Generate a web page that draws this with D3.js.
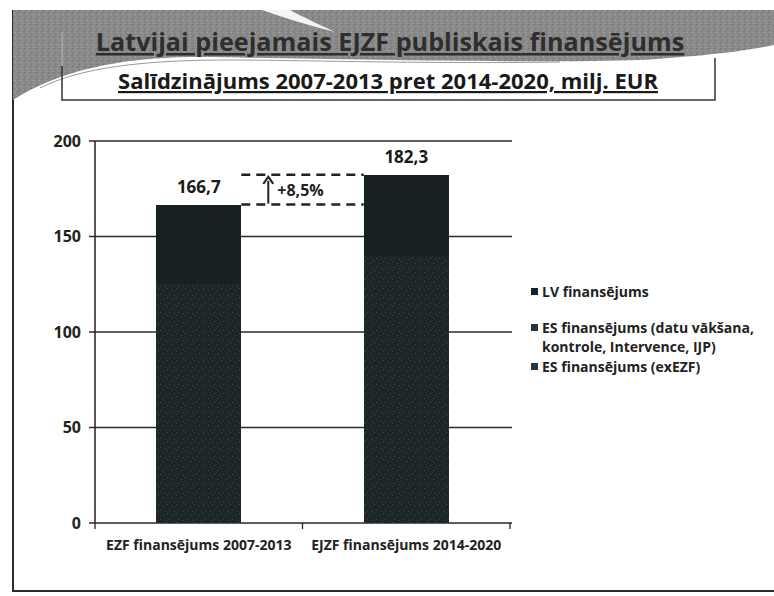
<!DOCTYPE html>
<html><head><meta charset="utf-8">
<script src="https://cdn.jsdelivr.net/npm/d3@7"></script>
<style>html,body{margin:0;padding:0;background:#fff;}svg{display:block;font-family:"Open Sans",Lato,sans-serif;}</style>
</head><body>
<svg id="c" width="774" height="596"></svg>
<script>
const categories = ["EZF finansējums 2007-2013", "EJZF finansējums 2014-2020"];
const seriesNames = ["ES finansējums (exEZF)", "ES finansējums (datu vākšana, kontrole, Intervence, IJP)", "LV finansējums"];
const esExEZF = [125.0, 118.4];
const esDatu = [0.0, 21.4];
const lvFin = [41.7, 42.5];
const totals = [166.7, 182.3];
const totalLabels = ["166,7", "182,3"];
const yTicks = [0, 50, 100, 150, 200];
const changeLabel = "+8,5%";
const title = "Latvijai pieejamais EJZF publiskais finansējums";
const subtitle = "Salīdzinājums  2007-2013 pret 2014-2020, milj. EUR";

const svg = d3.select("#c");
const defs = svg.append("defs");
const pat = defs.append("pattern").attr("id","speck").attr("width",9).attr("height",9).attr("patternUnits","userSpaceOnUse");
pat.append("rect").attr("width",9).attr("height",9).attr("fill","#1c2527");
[[1,2],[5,0],[7,6],[3,7]].forEach(([a,b])=>pat.append("rect").attr("x",a).attr("y",b).attr("width",1).attr("height",1).attr("fill","#3f4948"));
const pat2 = defs.append("pattern").attr("id","banner").attr("width",6).attr("height",6).attr("patternUnits","userSpaceOnUse");
pat2.append("rect").attr("width",6).attr("height",6).attr("fill","#8a8a8a");
[[0,0,"#6a6a6a"],[3,2,"#a8a8a8"],[1,4,"#747474"],[4,5,"#9c9c9c"],[5,1,"#7c7c7c"]].forEach(([a,b,c])=>pat2.append("rect").attr("x",a).attr("y",b).attr("width",1).attr("height",1).attr("fill",c));

// outer frame
svg.append("path").attr("d","M13,10 L13,591 L774,591").attr("fill","none").attr("stroke","#2b2b2b").attr("stroke-width",2);

// banner
svg.append("path")
  .attr("d","M13,10 L774,10 L774,45 C740,52 700,56 640,60 C520,64 300,58 190,57 C120,58 60,70 13,100 Z")
  .attr("fill","url(#banner)");
svg.append("path").attr("d","M262,10 L290,10 C305,18 318,24 335,32 C312,26 290,20 262,10 Z").attr("fill","#f4f4f4");
svg.append("path").attr("d","M40,88 C80,68 140,60 230,60 C300,60 420,64 560,62").attr("fill","none").attr("stroke","#555").attr("stroke-width",1).attr("opacity",0.6);

// subtitle box
svg.append("path").attr("d","M62,66 L62,100 L715,100 L715,58").attr("fill","none").attr("stroke","#333").attr("stroke-width",1.5);
svg.append("path").attr("d","M62,32 L62,66").attr("fill","none").attr("stroke","#bbb").attr("stroke-width",1);

svg.append("text").attr("x",390).attr("y",51).attr("text-anchor","middle")
  .attr("font-size",25.2).attr("font-weight",700).attr("fill","#2e2e2e").attr("text-decoration","underline").text(title);
svg.append("text").attr("x",388).attr("y",89).attr("text-anchor","middle")
  .attr("font-size",22).attr("font-weight",700).attr("fill","#1a1a1a").attr("text-decoration","underline").text(subtitle);

// scales
const y = d3.scaleLinear().domain([0,200]).range([523,141]);
const x = d3.scaleBand().domain(categories).range([95,510]).paddingInner(0.59).paddingOuter(0.295);

// grid
const g = svg.append("g");
g.selectAll("line.grid").data(yTicks).join("line")
  .attr("x1",89).attr("x2",512).attr("y1",d=>y(d)).attr("y2",d=>y(d))
  .attr("stroke","#2a2a2a").attr("stroke-width",1.3);
g.append("line").attr("x1",95).attr("x2",95).attr("y1",y(200)).attr("y2",y(0)).attr("stroke","#222").attr("stroke-width",1.5);
g.selectAll("text.yt").data(yTicks).join("text")
  .attr("x",81).attr("y",d=>y(d)+5.5).attr("text-anchor","end")
  .attr("font-size",16).attr("font-weight",700).attr("fill","#222").text(d=>d);

// x ticks at band edges
const edges = [x.range()[0]].concat(categories.map((c,i)=>x.range()[0]+(i+1)*x.step()));
g.selectAll("line.xt").data(edges).join("line")
  .attr("x1",d=>d).attr("x2",d=>d).attr("y1",y(0)).attr("y2",y(0)+6).attr("stroke","#222").attr("stroke-width",1.3);
g.selectAll("text.xl").data(categories).join("text")
  .attr("x",d=>x(d)+x.bandwidth()/2).attr("y",550).attr("text-anchor","middle")
  .attr("font-size",14).attr("font-weight",700).attr("fill","#222").text(d=>d);

// stacked bars
const rows = categories.map((c,i)=>({cat:c, ex:esExEZF[i], datu:esDatu[i], lv:lvFin[i]}));
const stack = d3.stack().keys(["ex","datu","lv"])(rows);
const fills = {ex:"url(#speck)", datu:"url(#speck)", lv:"#172022"};
stack.forEach(s=>{
  svg.append("g").selectAll("rect").data(s).join("rect")
    .attr("x",d=>x(d.data.cat)).attr("width",x.bandwidth())
    .attr("y",d=>y(d[1])).attr("height",d=>y(d[0])-y(d[1]))
    .attr("fill",fills[s.key]).attr("shape-rendering","crispEdges");
});

// total labels
svg.selectAll("text.tot").data(categories).join("text")
  .attr("x",(d)=>x(d)+x.bandwidth()/2).attr("y",(d,i)=>y(totals[i])-12)
  .attr("text-anchor","middle").attr("font-size",17).attr("font-weight",700).attr("fill","#1a1a1a")
  .text((d,i)=>totalLabels[i]);

// dashed comparison lines
const xa = x(categories[0])+x.bandwidth(), xb = x(categories[1]);
[totals[0], totals[1]].forEach(v=>{
  svg.append("line").attr("x1",xa).attr("x2",xb).attr("y1",y(v)).attr("y2",y(v))
    .attr("stroke","#222").attr("stroke-width",2.5).attr("stroke-dasharray","9,6");
});
const ax = xa+27;
svg.append("line").attr("x1",ax).attr("x2",ax).attr("y1",y(totals[0])-1).attr("y2",y(totals[1])+6)
  .attr("stroke","#222").attr("stroke-width",2);
svg.append("path").attr("d",`M${ax-5},${y(totals[1])+9} L${ax},${y(totals[1])+2} L${ax+5},${y(totals[1])+9}`)
  .attr("fill","none").attr("stroke","#222").attr("stroke-width",2);
svg.append("text").attr("x",ax+9).attr("y",(y(totals[0])+y(totals[1]))/2+6)
  .attr("font-size",16).attr("font-weight",700).attr("fill","#222").text(changeLabel);

// legend (top item = top of stack)
const legendItems = [
  {lines:["LV finansējums"], y:292, fill:"#172022"},
  {lines:["ES finansējums (datu vākšana,","kontrole, Intervence, IJP)"], y:328, fill:"#2a3336"},
  {lines:["ES finansējums (exEZF)"], y:367, fill:"#2a3336"}
];
const lg = svg.append("g");
legendItems.forEach(it=>{
  lg.append("rect").attr("x",531).attr("y",it.y-4).attr("width",7).attr("height",7).attr("fill",it.fill);
  it.lines.forEach((t,j)=>{
    lg.append("text").attr("x",542).attr("y",it.y+5+j*19).attr("font-size",14).attr("font-weight",700).attr("fill","#222").text(t);
  });
});
</script>
</body></html>
